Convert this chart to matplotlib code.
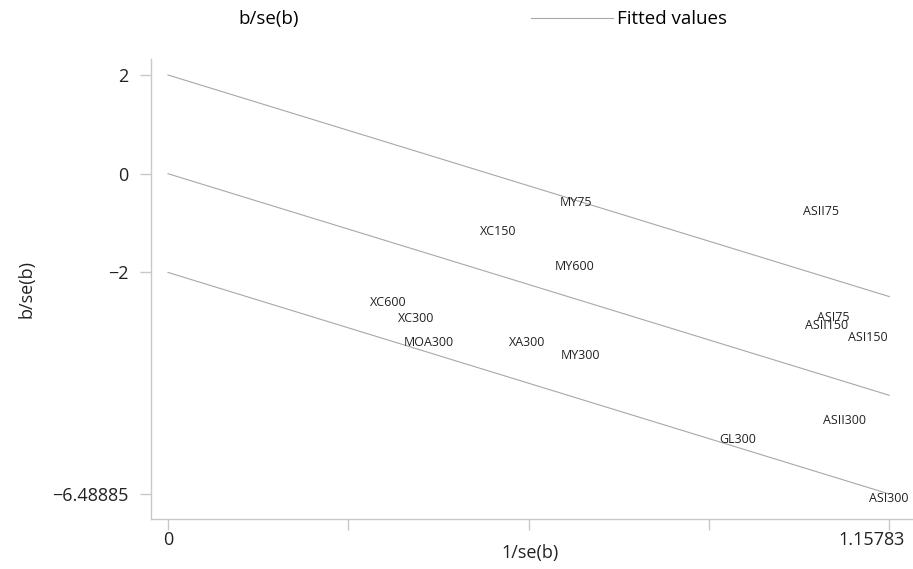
import numpy as np
import matplotlib.pyplot as plt
from matplotlib.lines import Line2D
from matplotlib.transforms import ScaledTranslation

plt.rcParams['font.family'] = ['Open Sans', 'DejaVu Sans']

# precision (1/se) and standardised estimate (b/se) for each study arm
studies = ['MY75', 'XC150', 'MY600', 'XC600', 'XC300', 'MOA300', 'XA300',
           'MY300', 'ASII75', 'ASI75', 'ASII150', 'ASI150', 'ASII300',
           'GL300', 'ASI300']
inv_se = [0.655, 0.530, 0.652, 0.353, 0.398, 0.418, 0.577,
          0.663, 1.049, 1.068, 1.057, 1.124, 1.086,
          0.915, 1.15783]
z_stat = [-0.49, -1.08, -1.79, -2.52, -2.84, -3.33, -3.33,
          -3.59, -0.69, -2.82, -3.00, -3.23, -4.91,
          -5.30, -6.48885]

# pooled slope of the Galbraith line and the +/-2 band
slope = -4.48885 / 1.15783
band = [2, 0, -2]

xticks = [0, 1.15783 / 4, 1.15783 / 2, 3 * 1.15783 / 4, 1.15783]
xticklabels = ['0', '', '', '', '1.15783']
yticks = [2, 0, -2, -6.48885]
yticklabels = ['2', '0', '\u22122', '\u22126.48885']

fig = plt.figure(figsize=(9.13, 5.69), dpi=100)
ax = fig.add_axes([0.1654, 0.0879, 0.8346, 0.8084])

grey = '#c8c8c8'
line_col = '#a8a8a8'
ink = '#222222'

xs = np.array([0, 1.15783])
for off in band:
    ax.plot(xs, off + slope * xs, color=line_col, lw=0.8)

for name, x, y in zip(studies, inv_se, z_stat):
    ax.annotate(name, (x, y), xytext=(0, -3), textcoords='offset points',
                ha='center', va='center', fontsize=9, color=ink)

ax.set_xlim(-0.0273, 1.196)
ax.set_ylim(-6.995, 2.324)

ax.set_xticks(xticks)
ax.set_xticklabels(xticklabels)
ax.set_yticks(yticks)
ax.set_yticklabels(yticklabels)
ax.tick_params(axis='both', colors=grey, labelcolor=ink,
               labelsize=13, length=8, width=1)
ax.tick_params(axis='x', pad=1)
ax.tick_params(axis='y', pad=8)

last = ax.get_xticklabels()[-1]
last.set_horizontalalignment('right')
last.set_transform(last.get_transform()
                   + ScaledTranslation(0.16, 0, fig.dpi_scale_trans))

for side in ['top', 'right']:
    ax.spines[side].set_visible(False)
for side in ['left', 'bottom']:
    ax.spines[side].set_color(grey)
    ax.spines[side].set_linewidth(1)

ax.set_xlabel('1/se(b)', fontsize=13, color=ink)
ax.set_ylabel('b/se(b)', fontsize=13, color=ink)
ax.xaxis.set_label_coords(0.497, -0.055)
ax.yaxis.set_label_coords(-0.152, 0.5)

handles = [Line2D([], [], linestyle='none'),
           Line2D([], [], color=line_col, lw=0.8)]
fig.legend(handles, ['b/se(b)', 'Fitted values'], ncol=2, frameon=False,
           loc='center', bbox_to_anchor=(0.4814, 0.966), fontsize=13.5,
           handlelength=4.37, handletextpad=0.21, columnspacing=12.4)

fig.savefig('out.png', dpi=100)
